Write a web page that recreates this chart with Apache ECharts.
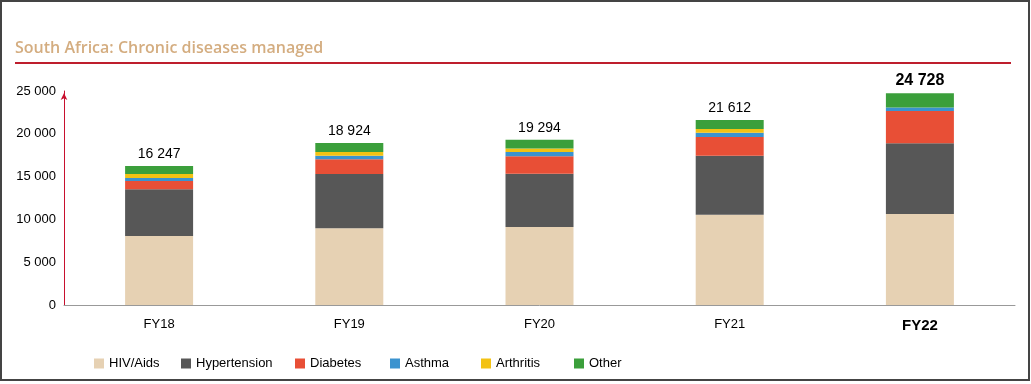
<!DOCTYPE html>
<html>
<head>
<meta charset="utf-8">
<script src="https://cdn.jsdelivr.net/npm/echarts@6/dist/echarts.min.js"></script>
<style>
html,body{margin:0;padding:0;background:#fff;}
#chart{width:1031px;height:384px;}
</style>
</head>
<body>
<div id="chart"></div>
<script>
const categories = ['FY18', 'FY19', 'FY20', 'FY21', 'FY22'];
const hivAids = [8060, 8960, 9110, 10550, 10630];
const hypertension = [5455, 6340, 6225, 6890, 8255];
const diabetes = [970, 1715, 2030, 2180, 3775];
const asthma = [350, 420, 500, 500, 400];
const arthritis = [467, 430, 430, 430, 0];
const other = [945, 1059, 999, 1062, 1668];
const totals = [16247, 18924, 19294, 21612, 24728];
const yTicks = [0, 5000, 10000, 15000, 20000, 25000];

const FONT = '"Liberation Sans Narrow", "Liberation Sans", sans-serif';
const fmt = v => String(v).replace(/\B(?=(\d{3})+(?!\d))/g, ' ');

const seriesDefs = [
  ['HIV/Aids', hivAids, '#e6d1b3'],
  ['Hypertension', hypertension, '#575757'],
  ['Diabetes', diabetes, '#e84f36'],
  ['Asthma', asthma, '#3b93cf'],
  ['Arthritis', arthritis, '#f3c213'],
  ['Other', other, '#3b9f3b']
];
const legendLeft = [89, 176, 290, 385, 476, 569];

const chart = echarts.init(document.getElementById('chart'));
const series = seriesDefs.map(([name, data, color], i) => {
  const s = {
    name, type: 'bar', stack: 'total', data,
    barWidth: 68,
    itemStyle: { color },
    emphasis: { disabled: true },
    animation: false
  };
  if (i === seriesDefs.length - 1) {
    s.label = {
      show: true, position: 'top', distance: 5,
      fontFamily: FONT, color: '#000',
      formatter: p => p.dataIndex === totals.length - 1 ? '{b|' + fmt(totals[p.dataIndex]) + '}' : '{n|' + fmt(totals[p.dataIndex]) + '}',
      rich: {
        n: { fontFamily: FONT, fontSize: 14, color: '#000' },
        b: { fontFamily: FONT, fontSize: 16, fontWeight: 'bold', color: '#000' }
      }
    };
  }
  return s;
});

const legends = seriesDefs.map(([name], i) => ({
  data: [name], left: legendLeft[i], top: 352,
  itemWidth: 10, itemHeight: 10, itemGap: 4,
  icon: 'rect', selectedMode: false,
  textStyle: { fontFamily: FONT, fontSize: 13, color: '#000', padding: [0, 0, 0, 0] }
}));

chart.setOption({
  backgroundColor: '#fff',
  animation: false,
  title: {
    text: 'South Africa: Chronic diseases managed',
    left: 10, top: 35,
    textStyle: { fontFamily: '"Open Sans", sans-serif', fontSize: 16, fontWeight: 600, color: '#d4ad80' }
  },
  legend: legends,
  grid: { left: 64, right: 16, top: 91, bottom: 79 },
  xAxis: {
    type: 'category', data: categories,
    axisLine: { lineStyle: { color: '#999', width: 1 } },
    axisTick: { show: false },
    axisLabel: {
      margin: 13,
      formatter: (v, i) => i === categories.length - 1 ? '{b|' + v + '}' : '{n|' + v + '}',
      rich: {
        n: { fontFamily: FONT, fontSize: 13, color: '#000' },
        b: { fontFamily: FONT, fontSize: 15, fontWeight: 'bold', color: '#000' }
      }
    }
  },
  yAxis: {
    type: 'value', min: yTicks[0], max: yTicks[yTicks.length - 1], interval: yTicks[1] - yTicks[0],
    axisLine: { show: true, lineStyle: { color: '#c8102e', width: 1 }, symbol: ['none', 'arrow'], symbolSize: [5, 7], symbolOffset: [0, -2] },
    axisTick: { show: false },
    splitLine: { show: false },
    axisLabel: {
      margin: 8, fontFamily: FONT, fontSize: 13, color: '#000',
      formatter: v => fmt(v)
    }
  },
  graphic: [
    { type: 'rect', shape: { x: 1, y: 1, width: 1028, height: 379 }, style: { fill: 'none', stroke: '#444', lineWidth: 2 }, z: 100 },
    { type: 'rect', shape: { x: 15, y: 62, width: 996, height: 2 }, style: { fill: '#be1e2d' } }
  ],
  series
});
</script>
</body>
</html>
